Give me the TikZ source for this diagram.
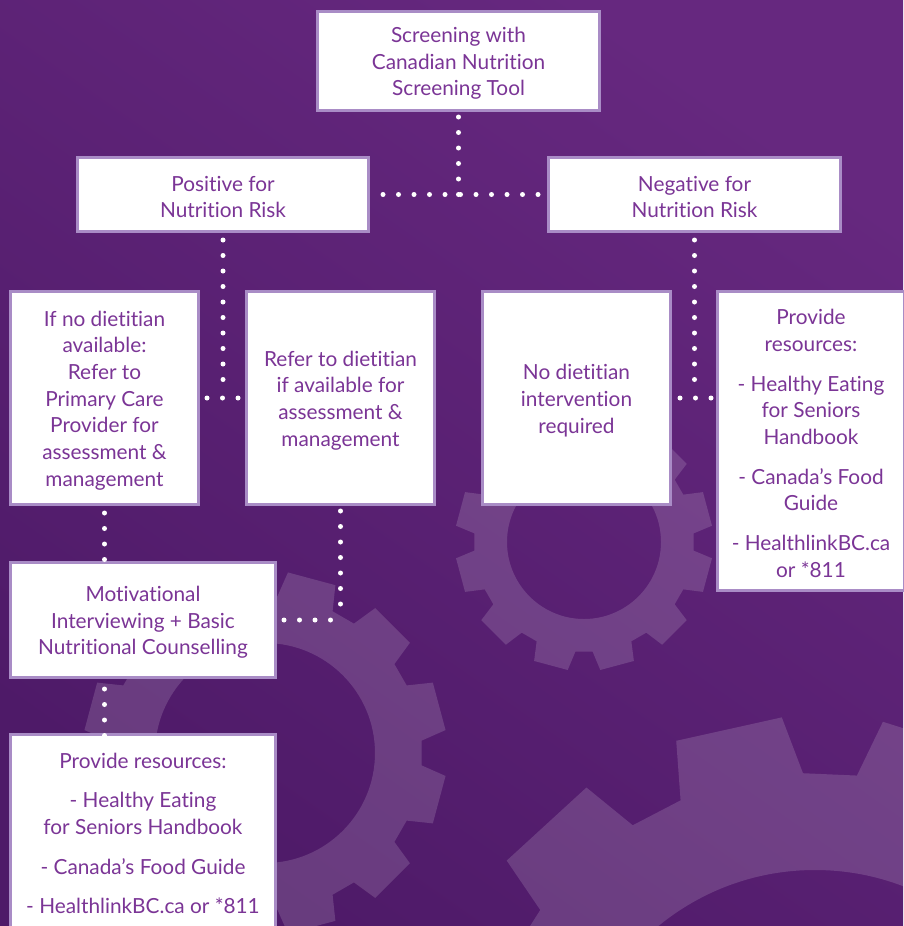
\documentclass[tikz,border=0pt]{standalone}
\usepackage{fontspec}
\setmainfont{Lato}[Ligatures=NoCommon]
\usetikzlibrary{calc}
\definecolor{bglight}{HTML}{66287F}
\definecolor{bgdark}{HTML}{4E1A68}
\definecolor{boxborder}{HTML}{A98CC6}
\definecolor{txt}{HTML}{7B3596}
\tikzset{
  box/.style={draw=boxborder, line width=3pt, fill=white, inner sep=0pt},
  boxtext/.style={text=txt, align=center, inner sep=0pt,
    font=\fontsize{20.8}{26.7}\selectfont},
  dotline/.style={white, line width=5pt, line cap=round, dash pattern=on 0pt off 15.5pt},
  gearcol/.style={fill=white, fill opacity=0.15}
}
\newcommand\cog[6]{%
  \fill[gearcol, even odd rule]
    ([shift={(#1,#2)}]#6-10.5:#4)
    \foreach \k in {0,...,11}{
      -- ([shift={(#1,#2)}]#6+30*\k-10.5:#4)
      -- ([shift={(#1,#2)}]#6+30*\k-7.75:#5)
      -- ([shift={(#1,#2)}]#6+30*\k+7.75:#5)
      -- ([shift={(#1,#2)}]#6+30*\k+10.5:#4)
    } -- cycle
    (#1,#2) circle[radius=#3];
}
% name, x, y, width, height, text
\newcommand\boxnode[6]{%
  \node[box, minimum width=#4, minimum height=#5] (#1) at (#2,#3) {};
  \node[boxtext] (#1-t) at ([yshift=-2.5pt]#1.center) {#6};
}
\begin{document}
\begin{tikzpicture}[x=1pt,y=-1pt]
\useasboundingbox (0,0) rectangle (903,926);
\shade[top color=bglight, bottom color=bgdark, shading angle=-35] (0,0) rectangle (903,926);
\begin{scope}
  \clip (0,0) rectangle (903,926);
  \cog{584}{542}{77}{110}{129}{15}
  \cog{265}{753}{110}{157}{182}{15}
  \cog{815}{1117}{247}{344}{401}{17.5}
\end{scope}

\boxnode{top}{458.5}{61}{282}{99}
  {Screening with\\Canadian Nutrition\\Screening Tool}
\boxnode{pos}{223}{194.5}{291}{74}
  {Positive for\\Nutrition Risk}
\boxnode{neg}{694.5}{194.5}{292}{74}
  {Negative for\\Nutrition Risk}
\boxnode{nodiet}{104.5}{398}{188}{213}
  {If no dietitian\\available:\\Refer to\\Primary Care\\Provider for\\assessment \&\\management}
\boxnode{refer}{340.5}{398}{188}{213}
  {Refer to dietitian\\if available for\\assessment \&\\management}
\boxnode{noint}{576.5}{398}{188}{213}
  {No dietitian\\intervention\\required}
\boxnode{resR}{811}{441}{187}{299}
  {Provide\\resources:\\[13pt]- Healthy Eating\\for Seniors\\Handbook\\[13pt]- Canada’s Food\\Guide\\[13pt]- HealthlinkBC.ca\\or *811}
\boxnode{motiv}{143}{620}{265}{115}
  {Motivational\\Interviewing + Basic\\Nutritional Counselling}
\boxnode{resB}{143}{831}{265}{193}
  {Provide resources:\\[13pt]- Healthy Eating\\for Seniors Handbook\\[13pt]- Canada’s Food Guide\\[13pt]- HealthlinkBC.ca or *811}

\coordinate (j1) at (top.south |- pos.east);
\coordinate (j2) at (pos.south |- nodiet.east);
\coordinate (j3) at (neg.south |- noint.east);
\coordinate (j4) at (refer.south |- motiv.east);
\draw[dotline] ([yshift=-5pt]top.south) -- (j1);
\draw[dotline] ([xshift=13pt]pos.east) -- ([xshift=-7pt]neg.west);
\draw[dotline] ([yshift=-7pt]pos.south) -- ([yshift=16pt]j2);
\draw[dotline] ([xshift=7pt]nodiet.east) -- ([xshift=-5pt]refer.west);
\draw[dotline] ([yshift=-7pt]neg.south) -- ([yshift=16pt]j3);
\draw[dotline] ([xshift=8pt]noint.east) -- ([xshift=-3pt]noint.east -| resR.west);
\draw[dotline] ([yshift=-7pt]nodiet.south) -- (nodiet.south |- motiv.north);
\draw[dotline] ([yshift=-5pt]refer.south) -- ([yshift=9pt]j4);
\draw[dotline] ([xshift=-10pt]j4) -- ([xshift=4pt]motiv.east);
\draw[dotline] ([yshift=-10pt]motiv.south -| nodiet.south) -- ([yshift=-3pt]nodiet.south |- resB.north);
\end{tikzpicture}
\end{document}
